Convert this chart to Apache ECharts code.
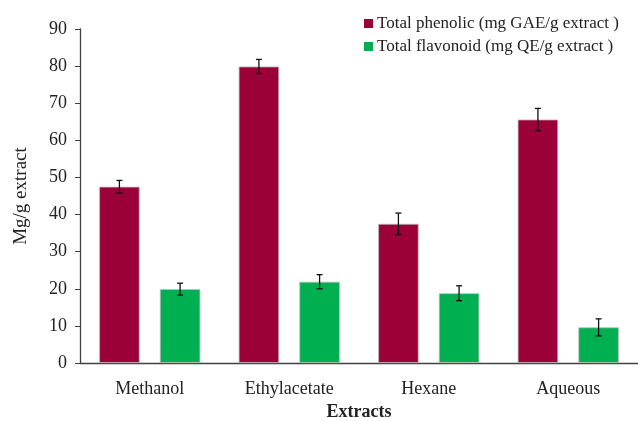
<!DOCTYPE html>
<html>
<head>
<meta charset="utf-8">
<script src="https://cdn.jsdelivr.net/npm/echarts@6/dist/echarts.min.js"></script>
<style>
  html, body { margin: 0; padding: 0; background: #fff; }
  #chart { width: 638px; height: 421px; }
</style>
</head>
<body>
<div id="chart"></div>
<script>
const extracts = ['Methanol', 'Ethylacetate', 'Hexane', 'Aqueous'];
const phenolic = [47.5, 79.9, 37.5, 65.6];
const phenolicErr = [1.7, 1.9, 2.9, 3.0];
const flavonoid = [19.9, 21.9, 18.8, 9.6];
const flavonoidErr = [1.6, 1.9, 2.0, 2.3];

const FONT = 'Liberation Serif';
const axisColor = '#404040';

// draws a vertical error bar with caps centred on its bar
const errorBar = (seriesIndex, barCount) => (params, api) => {
    const cat = api.value(0);
    const val = api.value(1);
    const err = api.value(2);
    const top = api.coord([cat, val + err]);
    const bot = api.coord([cat, val - err]);
    const bandW = api.size([1, 0])[0];
    const barW = bandW * 0.29;
    const gap = barW * 0.5;
    const total = barW * barCount + gap * (barCount - 1);
    const x = top[0] - total / 2 + seriesIndex * (barW + gap) + barW / 2;
    const style = { stroke: '#111', lineWidth: 1.3 };
    return {
        type: 'group',
        children: [
            { type: 'line', shape: { x1: x, y1: top[1], x2: x, y2: bot[1] }, style },
            { type: 'line', shape: { x1: x - 3, y1: top[1], x2: x + 3, y2: top[1] }, style },
            { type: 'line', shape: { x1: x - 3, y1: bot[1], x2: x + 3, y2: bot[1] }, style }
        ]
    };
};

const chart = echarts.init(document.getElementById('chart'));
chart.setOption({
    animation: false,
    textStyle: { fontFamily: FONT },
    grid: { left: 80, right: 0, top: 29, bottom: 58, outerBoundsMode: 'none', containLabel: false },
    legend: {
        orient: 'vertical',
        left: 359,
        top: 10,
        itemWidth: 9,
        itemHeight: 9,
        itemGap: 6,
        icon: 'rect',
        itemStyle: { borderWidth: 0 },
        textStyle: { fontFamily: FONT, fontSize: 17, color: '#222', padding: [0, 0, 0, -1] },
        data: ['Total phenolic (mg GAE/g extract )', 'Total flavonoid (mg QE/g extract )']
    },
    xAxis: {
        type: 'category',
        data: extracts,
        name: 'Extracts',
        nameLocation: 'middle',
        nameGap: 40,
        nameTextStyle: { fontFamily: FONT, fontSize: 18, fontWeight: 'bold', color: '#222' },
        axisLine: { lineStyle: { color: axisColor, width: 1.3 } },
        axisTick: { length: 5, lineStyle: { color: axisColor } },
        axisLabel: { fontFamily: FONT, fontSize: 18, color: '#222', margin: 17 }
    },
    yAxis: {
        type: 'value',
        min: 0,
        max: 90,
        interval: 10,
        name: 'Mg/g extract',
        nameLocation: 'middle',
        nameGap: 49,
        nameTextStyle: { fontFamily: FONT, fontSize: 19, color: '#222' },
        splitLine: { show: false },
        axisLine: { show: true, lineStyle: { color: axisColor, width: 1.3 } },
        axisTick: { show: true, length: 5, lineStyle: { color: axisColor } },
        axisLabel: { fontFamily: FONT, fontSize: 18, color: '#222', margin: 13 }
    },
    series: [
        {
            name: 'Total phenolic (mg GAE/g extract )',
            type: 'bar',
            data: phenolic,
            barWidth: '29%',
            barGap: '50%',
            itemStyle: { color: '#9B0038', borderColor: '#bbb', borderWidth: 0.8 }
        },
        {
            name: 'Total flavonoid (mg QE/g extract )',
            type: 'bar',
            data: flavonoid,
            barWidth: '29%',
            barGap: '50%',
            itemStyle: { color: '#00B050', borderColor: '#bbb', borderWidth: 0.8 }
        },
        {
            type: 'custom',
            renderItem: errorBar(0, 2),
            data: phenolic.map((v, i) => [i, v, phenolicErr[i]]),
            z: 10
        },
        {
            type: 'custom',
            renderItem: errorBar(1, 2),
            data: flavonoid.map((v, i) => [i, v, flavonoidErr[i]]),
            z: 10
        }
    ]
});
</script>
</body>
</html>
